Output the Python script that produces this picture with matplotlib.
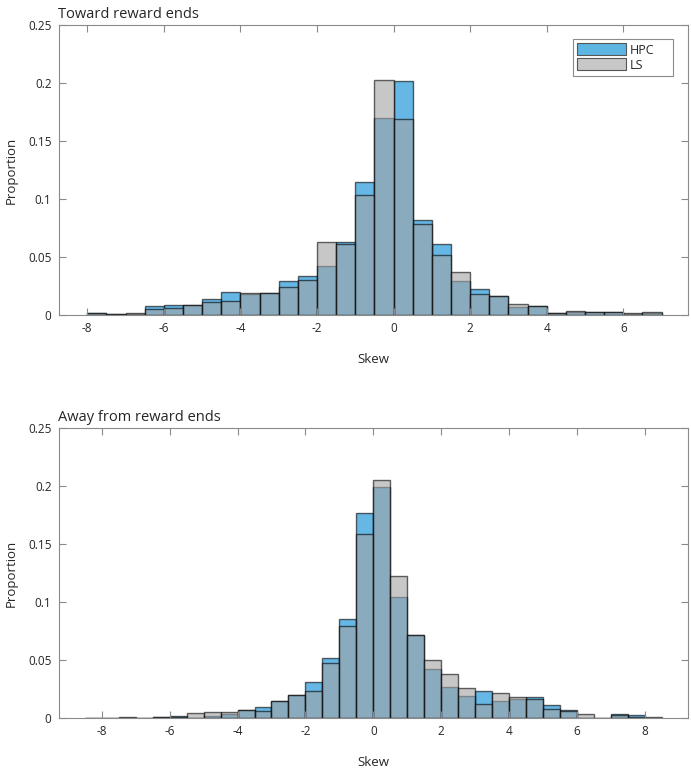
#!/usr/bin/env python
# Skew histograms, HPC vs LS, toward / away from reward ends

import numpy as np
from matplotlib import pyplot as plt
from matplotlib.patches import Patch

plt.rc("font", family="Open Sans")

# bin edges (width 0.5)
edgesToward = np.arange(-8.0, 7.01, 0.5)
edgesAway = np.arange(-8.5, 8.51, 0.5)

# proportions per bin
hpcToward = [0.0017, 0.0009, 0.0005, 0.0078, 0.0086, 0.0083, 0.0135, 0.0198,
	0.0178, 0.0193, 0.0296, 0.0333, 0.0420, 0.0630, 0.1150, 0.1700,
	0.2014, 0.0816, 0.0612, 0.0296, 0.0221, 0.0167, 0.0066, 0.0080,
	0.0017, 0.0023, 0.0023, 0.0029, 0.0010, 0.0015]
lsToward = [0.0017, 0.0009, 0.0017, 0.0049, 0.0057, 0.0083, 0.0109, 0.0118,
	0.0193, 0.0193, 0.0239, 0.0302, 0.0630, 0.0610, 0.1035, 0.2030,
	0.1687, 0.0787, 0.0514, 0.0374, 0.0181, 0.0167, 0.0095, 0.0080,
	0.0017, 0.0037, 0.0029, 0.0029, 0.0017, 0.0023]

hpcAway = [0.0005, 0.0, 0.0012, 0.0005, 0.0012, 0.0017, 0.0006, 0.0020,
	0.0037, 0.0075, 0.0098, 0.0147, 0.0198, 0.0313, 0.0517, 0.0859,
	0.1767, 0.1991, 0.1043, 0.0716, 0.0422, 0.0270, 0.0190, 0.0233,
	0.0149, 0.0164, 0.0181, 0.0112, 0.0069, 0.0, 0.0006, 0.0037,
	0.0029, 0.0003]
lsAway = [0.0005, 0.0, 0.0005, 0.0005, 0.0012, 0.0012, 0.0046, 0.0055,
	0.0055, 0.0070, 0.0063, 0.0147, 0.0198, 0.0239, 0.0474, 0.0798,
	0.1583, 0.2052, 0.1224, 0.0716, 0.0500, 0.0382, 0.0259, 0.0124,
	0.0221, 0.0187, 0.0164, 0.0078, 0.0060, 0.0034, 0.0006, 0.0028,
	0.0011, 0.0011]

yTicks = [0, 0.05, 0.1, 0.15, 0.2, 0.25]
yTickLabels = ["0", "0.05", "0.1", "0.15", "0.2", "0.25"]

colHPC = "#0087D4"
colLS = "#A3A3A3"
axCol = "#8a8a8a"
txtCol = "#262626"


def drawHist(ax, edges, hpc, ls, title, xlim, xticks):
	w = edges[1] - edges[0]
	ax.bar(edges[:-1], hpc, width=w, align="edge", color=colHPC,
		edgecolor="black", linewidth=1.0, alpha=0.6)
	ax.bar(edges[:-1], ls, width=w, align="edge", color=colLS,
		edgecolor="black", linewidth=1.0, alpha=0.6)
	ax.set_xlim(xlim)
	ax.set_ylim(0, 0.25)
	ax.set_xticks(xticks)
	ax.set_xticklabels(["%g" % t for t in xticks])
	ax.set_yticks(yTicks)
	ax.set_yticklabels(yTickLabels)
	ax.tick_params(direction="in", length=5, width=0.8, top=True, right=True,
		labelsize=8.5, colors=axCol, labelcolor=txtCol, pad=5)
	for s in ax.spines.values():
		s.set_color(axCol)
		s.set_linewidth(0.8)
	ax.set_title(title, loc="left", fontsize=10.5, color=txtCol, pad=5)
	ax.set_ylabel("Proportion", fontsize=9.5, color=txtCol)
	ax.yaxis.set_label_coords(-0.064, 0.5)
	ax.set_xlabel("Skew", fontsize=9.5, color=txtCol)
	ax.xaxis.set_label_coords(0.5, -0.13)


fig = plt.figure(figsize=(6.91, 7.8), dpi=100)
axTop = fig.add_axes([58.5 / 691, 1 - 315 / 780, 629.5 / 691, 290 / 780])
axBot = fig.add_axes([58.5 / 691, 1 - 718.3 / 780, 629.5 / 691, 290.3 / 780])

drawHist(axTop, edgesToward, hpcToward, lsToward, "Toward reward ends",
	(-8.75, 7.69), list(range(-8, 7, 2)))
drawHist(axBot, edgesAway, hpcAway, lsAway, "Away from reward ends",
	(-9.28, 9.28), list(range(-8, 9, 2)))

# legend with the colours as they appear over white
handles = [Patch(facecolor="#5CB6E1", edgecolor="#555555", linewidth=0.8, label="HPC"),
	Patch(facecolor="#C8C8C8", edgecolor="#555555", linewidth=0.8, label="LS")]
leg = axTop.legend(handles=handles, loc="upper left",
	bbox_to_anchor=(0.817, 0.824, 0.159, 0.128), mode="expand", borderaxespad=0,
	fontsize=9, handlelength=3.9, handleheight=1.1, handletextpad=0.3,
	borderpad=0.35, labelspacing=0.15, fancybox=False, framealpha=1)
leg.get_frame().set_edgecolor(axCol)
leg.get_frame().set_linewidth(0.8)
for t in leg.get_texts():
	t.set_color(txtCol)

plt.savefig("out.png", dpi=100)
